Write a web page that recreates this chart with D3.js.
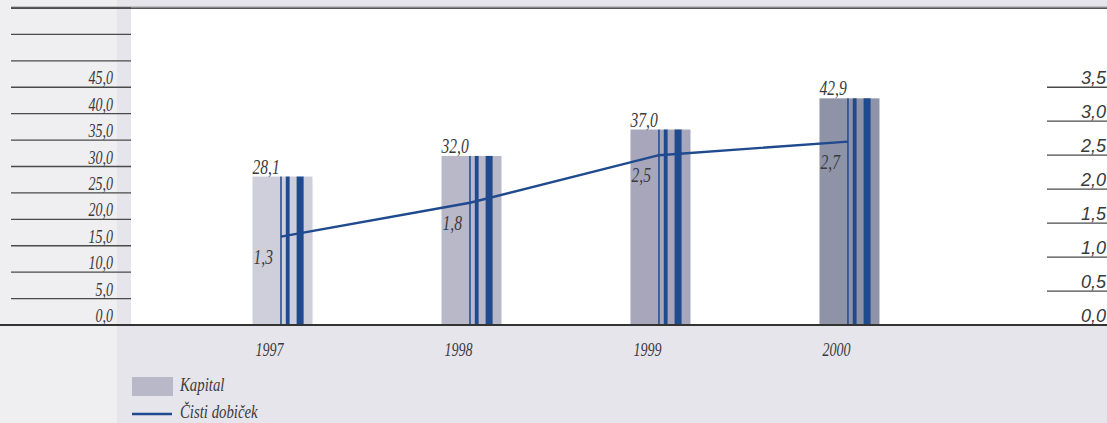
<!DOCTYPE html>
<html><head><meta charset="utf-8">
<script src="https://cdn.jsdelivr.net/npm/d3@7"></script>
<style>
html,body{margin:0;padding:0;background:#e6e5ec;}
svg{display:block;}
text{font-family:"Liberation Serif","Times New Roman",serif;font-style:italic;fill:#3a3a3a;}
</style></head>
<body>
<svg id="c" width="1107" height="423"></svg>
<script>
const years = ["1997","1998","1999","2000"];
const kapital = [28.1, 32.0, 37.0, 42.9];
const dobicek = [1.3, 1.8, 2.5, 2.7];
const leftTicks = [0,5,10,15,20,25,30,35,40,45];
const leftExtraLines = [50,55,60];
const rightTicks = [0,0.5,1,1.5,2,2.5,3,3.5];
const barColors = ["#cfcedb","#b9b8c9","#a7a6ba","#8f93a8"];
const legendLabels = ["Kapital","Čisti dobiček"];

const W = 1107, H = 423;
const svg = d3.select("#c");
const fmt = v => d3.format(".1f")(v).replace(".", ",");
const blue = "#1f4a8e";
const SX = 0.78;

// backgrounds
svg.append("rect").attr("x",0).attr("y",0).attr("width",W).attr("height",H).attr("fill","#e6e5ec");
svg.append("rect").attr("x",0).attr("y",0).attr("width",117).attr("height",H).attr("fill","#efeef1");
svg.append("rect").attr("x",131).attr("y",8).attr("width",W-131).attr("height",317).attr("fill","#ffffff");

const yL = d3.scaleLinear().domain([0,60]).range([325,8]);
const yR = d3.scaleLinear().domain([0,3.5]).range([325, yL(45)]);
const x = d3.scaleBand().domain(years).range([131,1001]).paddingInner(0.6825).paddingOuter(0.643);

// top line
svg.append("line").attr("x1",11).attr("x2",W).attr("y1",7).attr("y2",7).attr("stroke","#9a9a9e").attr("stroke-width",1);
svg.append("line").attr("x1",11).attr("x2",W).attr("y1",8.2).attr("y2",8.2).attr("stroke","#555").attr("stroke-width",1.4);

// left grid lines + labels
const lg = svg.append("g");
lg.selectAll("line.l").data(leftTicks.concat(leftExtraLines)).enter().append("line")
  .attr("x1",11).attr("x2",131).attr("y1",d=>yL(d)).attr("y2",d=>yL(d))
  .attr("stroke","#4a4a4a").attr("stroke-width",1.3);
lg.selectAll("text").data(leftTicks).enter().append("text")
  .attr("transform",d=>`translate(113,${yL(d)-3}) scale(${SX},1)`)
  .attr("text-anchor","end").attr("font-size",18).text(fmt);

// right grid lines + labels
const rg = svg.append("g");
rg.selectAll("line").data(rightTicks.filter(d=>d>0)).enter().append("line")
  .attr("x1",1047).attr("x2",W).attr("y1",d=>yR(d)).attr("y2",d=>yR(d))
  .attr("stroke","#4a4a4a").attr("stroke-width",1.3);
rg.selectAll("text").data(rightTicks).enter().append("text")
  .attr("x",1106).attr("y",d=>yR(d)-3).attr("text-anchor","end")
  .style("font-family","'Liberation Sans',Arial,sans-serif").attr("font-size",18)
  .attr("fill","#444").text(fmt);

// bars
const bars = svg.append("g").selectAll("g").data(years).enter().append("g");
bars.append("rect").attr("x",d=>x(d)).attr("y",(d,i)=>yL(kapital[i]))
  .attr("width",x.bandwidth()).attr("height",(d,i)=>yL(0)-yL(kapital[i]))
  .attr("fill",(d,i)=>barColors[i]);
const bw = x.bandwidth();
const stripes = [[0.462,1.5],[0.555,3.8],[0.735,7]];
stripes.forEach(s=>{
  bars.append("rect").attr("x",d=>x(d)+bw*s[0]).attr("y",(d,i)=>yL(kapital[i]))
    .attr("width",s[1]).attr("height",(d,i)=>yL(0)-yL(kapital[i])).attr("fill",blue);
});
bars.append("text").attr("transform",(d,i)=>`translate(${x(d)},${yL(kapital[i])-3}) scale(${SX},1)`)
  .attr("font-size",20).text((d,i)=>fmt(kapital[i]));

// line
const lx = d => x(d)+bw*0.462+0.75;
svg.append("path").datum(years).attr("fill","none").attr("stroke",blue).attr("stroke-width",2.4)
  .attr("d", d3.line().x(d=>lx(d)).y((d,i)=>yR(dobicek[i])));
svg.append("g").selectAll("text").data(years).enter().append("text")
  .attr("transform",(d,i)=>`translate(${x(d)+1},${yR(dobicek[i])+27}) scale(${SX},1)`)
  .attr("font-size",20).text((d,i)=>fmt(dobicek[i]));

// bottom axis
svg.append("line").attr("x1",0).attr("x2",W).attr("y1",325).attr("y2",325).attr("stroke","#333").attr("stroke-width",1.8);
svg.append("g").selectAll("text").data(years).enter().append("text")
  .attr("transform",d=>`translate(${x(d)+bw/2-13},356) scale(${SX},1)`)
  .attr("text-anchor","middle").attr("font-size",18).text(d=>d);

// legend
svg.append("rect").attr("x",132).attr("y",377).attr("width",41).attr("height",19).attr("fill","#b9b8c9");
svg.append("line").attr("x1",132).attr("x2",172).attr("y1",414).attr("y2",414).attr("stroke",blue).attr("stroke-width",2.4);
svg.append("text").attr("transform",`translate(180,391) scale(${SX},1)`).attr("font-size",19).text(legendLabels[0]);
svg.append("text").attr("transform",`translate(180,418) scale(${SX},1)`).attr("font-size",19).text(legendLabels[1]);
</script>
</body></html>
